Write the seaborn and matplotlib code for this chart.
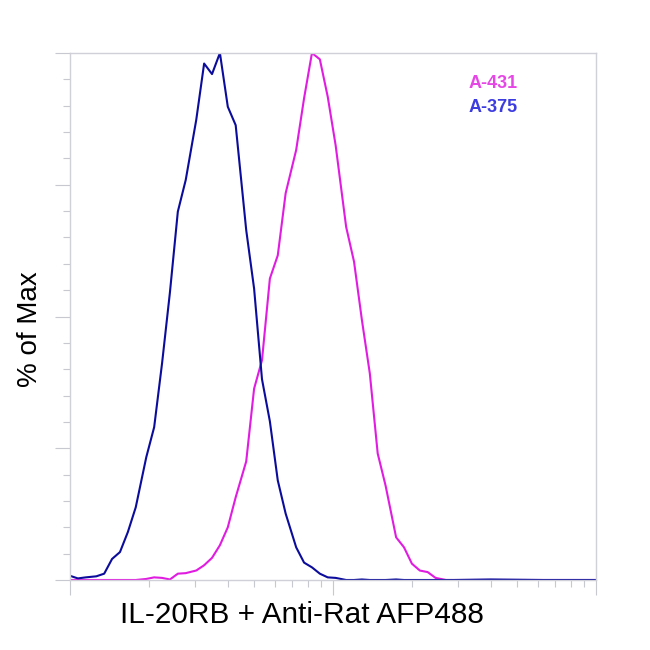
import matplotlib
matplotlib.use("Agg")
import matplotlib.pyplot as plt
from matplotlib.ticker import MultipleLocator, LogLocator, NullFormatter
import seaborn as sns
import pandas as pd
import numpy as np

# histogram channels, log10 of fluorescence intensity
log_intensity = [2.00, 2.03, 2.06, 2.10, 2.13, 2.16, 2.19, 2.22, 2.25, 2.29,
                 2.32, 2.35, 2.38, 2.41, 2.44, 2.48, 2.51, 2.54, 2.57, 2.60,
                 2.63, 2.67, 2.70, 2.73, 2.76, 2.79, 2.82, 2.86, 2.89, 2.92,
                 2.95, 2.98, 3.01, 3.05, 3.08, 3.11, 3.14, 3.17, 3.20, 3.24,
                 3.27, 3.30, 3.33, 3.36, 3.39, 3.43, 3.46, 3.60, 3.80, 4.00]

# % of Max, A-375 (blue)
a375 = [0.8, 0.3, 0.5, 0.7, 1.2, 4.0, 5.3, 9.1, 13.8, 23.3,
        29.0, 41.1, 54.6, 69.9, 75.9, 87.3, 98.0, 96.0, 100.0, 89.8,
        86.3, 66.4, 55.3, 38.1, 30.1, 18.9, 12.6, 6.2, 3.3, 2.4,
        1.2, 0.5, 0.4, 0.0, 0.0, 0.1, 0.0, 0.0, 0.0, 0.1,
        0.0, 0.0, 0.0, 0.0, 0.0, 0.0, 0.0, 0.1, 0.0, 0.0]

# % of Max, A-431 (magenta)
a431 = [0.0, 0.0, 0.0, 0.0, 0.0, 0.0, 0.0, 0.0, 0.0, 0.2,
        0.5, 0.4, 0.1, 1.2, 1.3, 1.8, 2.8, 4.2, 6.6, 10.0,
        15.7, 22.5, 36.3, 41.7, 57.2, 61.6, 73.4, 81.6, 91.4, 100.0,
        98.8, 91.7, 82.5, 67.0, 60.4, 49.3, 39.2, 24.0, 17.9, 8.1,
        6.2, 3.1, 1.8, 1.5, 0.4, 0.0, 0.0, 0.0, 0.0, 0.0]

samples = ["A-431", "A-375"]
line_colors = {"A-431": "#e01ce0", "A-375": "#0c0c9c"}
label_colors = {"A-431": "#e646e6", "A-375": "#3c3ce0"}

intensity = [10 ** v for v in log_intensity]
df = pd.concat([
    pd.DataFrame({"intensity": intensity, "pct": a431, "sample": "A-431"}),
    pd.DataFrame({"intensity": intensity, "pct": a375, "sample": "A-375"}),
])

sns.set_style("white")
plt.rcParams["font.family"] = ["Liberation Sans", "DejaVu Sans"]

fig = plt.figure(figsize=(6.5, 6.5), dpi=100)
ax = fig.add_axes([70 / 650, 1 - 580 / 650, 526 / 650, 527 / 650])

sns.lineplot(data=df, x="intensity", y="pct", hue="sample", palette=line_colors,
             hue_order=samples, linewidth=1.5, legend=False, ax=ax,
             estimator=None, sort=False)

ax.set_xscale("log")
ax.set_xlim(100, 10000)
ax.set_ylim(0, 100)
ax.xaxis.set_major_locator(LogLocator(base=10))
ax.xaxis.set_minor_locator(LogLocator(base=10, subs=np.arange(2, 10)))
ax.xaxis.set_minor_formatter(NullFormatter())
ax.yaxis.set_major_locator(MultipleLocator(25))
ax.yaxis.set_minor_locator(MultipleLocator(5))

tick_gray = "#c8c8d0"
ax.tick_params(which="major", length=11, width=0.8, color=tick_gray,
               labelbottom=False, labelleft=False, direction="out",
               bottom=True, left=True)
ax.tick_params(which="minor", length=5, width=0.8, color=tick_gray,
               direction="out", bottom=True, left=True)
for side in ["top", "right", "left", "bottom"]:
    ax.spines[side].set_color("#d0d0d8")
    ax.spines[side].set_linewidth(1.0)
ax.set_xlabel("")
ax.set_ylabel("")

fig.text(302 / 650, 1 - 623 / 650, "IL-20RB + Anti-Rat AFP488", fontsize=21.4,
         ha="center", va="baseline", color="black")
fig.text(37 / 650, 1 - 329 / 650, "% of Max", fontsize=20, rotation=90,
         rotation_mode="anchor", ha="center", va="baseline", color="black")

fig.text(493 / 650, 1 - 83 / 650, "A-431", fontsize=13, fontweight="bold",
         color=label_colors["A-431"], ha="center", va="center")
fig.text(493 / 650, 1 - 107 / 650, "A-375", fontsize=13, fontweight="bold",
         color=label_colors["A-375"], ha="center", va="center")

fig.savefig("out.png", dpi=100)
